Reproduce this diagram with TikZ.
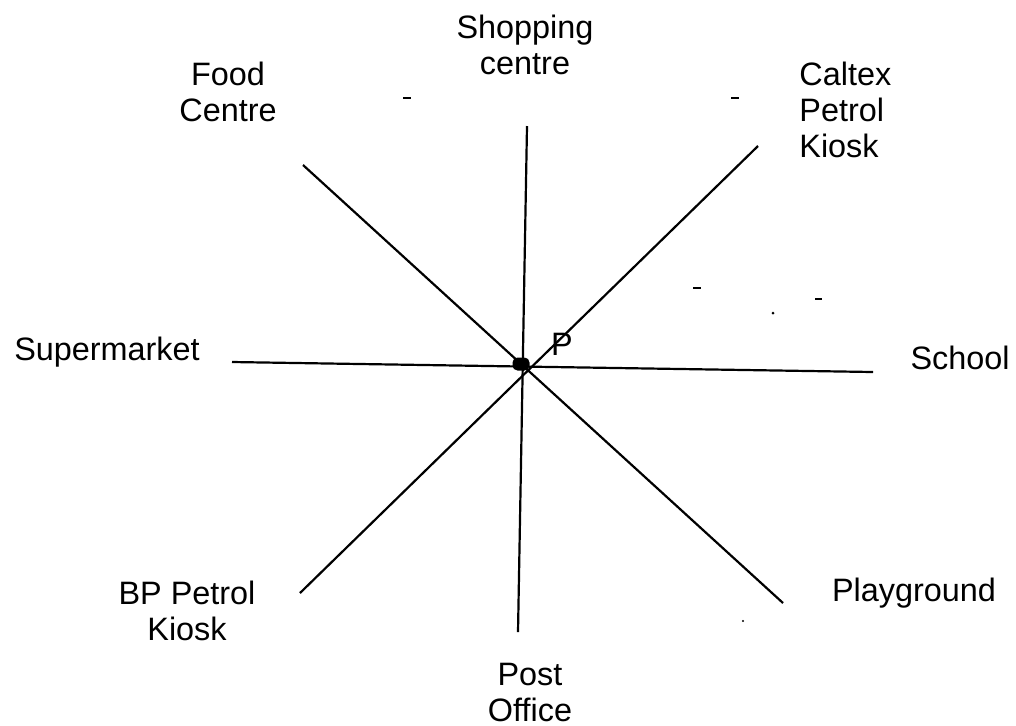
\documentclass[tikz,border=0pt]{standalone}
\usepackage{fontspec}
\setmainfont{Liberation Sans}
\begin{document}
\begin{tikzpicture}[x=0.5pt,y=-0.5pt,
  lbl/.style={font=\fontsize{16.2pt}{18pt}\selectfont, inner sep=0pt, align=center},
  ray/.style={line width=1.1pt, black},
  speck/.style={line width=0.9pt, black}]
\useasboundingbox (0,0) rectangle (1016,725);
% end points of the four lines
\coordinate (n) at (527,126);
\coordinate (s) at (518,632);
\coordinate (w) at (232,362);
\coordinate (e) at (873,372);
\coordinate (nw) at (303,165);
\coordinate (se) at (783,603);
\coordinate (ne) at (758,146);
\coordinate (sw) at (300,593);
\draw[ray] (n) -- (s);
\draw[ray] (w) -- (e);
\draw[ray] (nw) -- (se);
\draw[ray] (ne) -- (sw);
\node[fill=black, rectangle, rounded corners=2.5pt, minimum width=8.5pt, minimum height=6.5pt, inner sep=0pt] (P) at (521,364) {};
% labels
\node[lbl] (shop) at (525,45) {Shopping\\centre};
\node[lbl] (food) at (228,92) {Food\\Centre};
\node[lbl, align=left, anchor=west] (caltex) at (799,110) {Caltex\\Petrol\\Kiosk};
\node[lbl] (super) at (107,352) {Supermarket};
\node[lbl, anchor=east] (school) at (1010,358) {School};
\node[lbl] (bp) at (187,611) {BP Petrol\\Kiosk};
\node[lbl] (post) at (530,692) {Post\\Office};
\node[lbl] (play) at (914,593) {Playground};
\node[lbl] (plbl) at (562,344) {P};
% small specks
\draw[speck] (403,98) -- (411,98);
\draw[speck] (731,98) -- (739,98);
\draw[speck] (693,288) -- (701,288);
\draw[speck] (815,299) -- (822,299);
\fill (773,313) circle (1.5);
\fill (743,621) circle (1.2);
\end{tikzpicture}
\end{document}
